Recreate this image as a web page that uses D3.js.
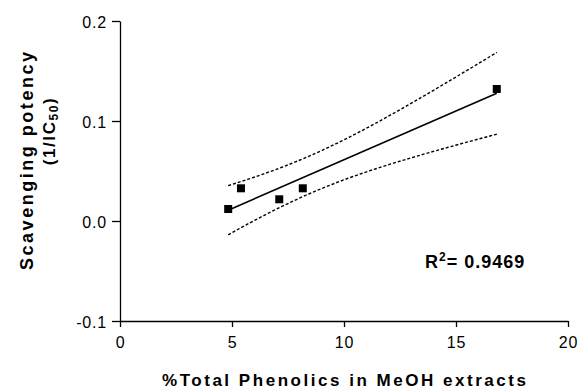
<!DOCTYPE html>
<html><head><meta charset="utf-8">
<script src="https://cdn.jsdelivr.net/npm/d3@7"></script>
<style>body{margin:0;background:#fff}svg{display:block}text{font-family:"Liberation Sans",Arial,sans-serif}</style>
</head><body>
<svg id="c" width="579" height="389"></svg>
<script>
// Data
const phenolics = [4.83, 5.40, 7.11, 8.16, 16.82];      // % total phenolics
const potency   = [0.012, 0.0327, 0.0217, 0.0327, 0.132]; // 1/IC50
const xTicks = [0, 5, 10, 15, 20];
const yTicks = [-0.1, 0.0, 0.1, 0.2];
const rSquaredLabel = "0.9469";

const svg = d3.select("#c");
const x = d3.scaleLinear().domain([0, 20]).range([120, 568]);
const y = d3.scaleLinear().domain([-0.1, 0.2]).range([321, 21]);

// axes
const gx = svg.append("g").attr("transform", `translate(0,${y(-0.1)})`)
  .call(d3.axisBottom(x).tickValues(xTicks).tickFormat(d3.format("d")).tickSize(6).tickSizeOuter(0));
const gy = svg.append("g").attr("transform", `translate(${x(0)},0)`)
  .call(d3.axisLeft(y).tickValues(yTicks).tickFormat(d => d3.format(".1f")(d).replace("\u2212", "-")).tickSize(8).tickSizeOuter(0));
[gx, gy].forEach(g => {
  g.select(".domain").attr("stroke", "#000").attr("stroke-width", 1.3);
  g.selectAll(".tick line").attr("stroke", "#000").attr("stroke-width", 1.3);
  g.selectAll(".tick text").attr("fill", "#000").style("font-size", "16px")
   .style("letter-spacing", "0.8px")
   .style("font-family", '"Liberation Sans", Arial, sans-serif');
});
gx.selectAll(".tick text").attr("dy", "0").attr("y", 27);
gy.selectAll(".tick text").attr("x", -13).attr("dy", "0.4em");

// linear regression and 95% confidence band computed from the data
const n = phenolics.length;
const mx = d3.mean(phenolics), my = d3.mean(potency);
const sxx = d3.sum(phenolics, v => (v - mx) ** 2);
const sxy = d3.sum(phenolics, (v, i) => (v - mx) * (potency[i] - my));
const slope = sxy / sxx, icpt = my - slope * mx;
const sse = d3.sum(phenolics, (v, i) => (potency[i] - (icpt + slope * v)) ** 2);
const s = Math.sqrt(sse / (n - 2));
const tcrit = 3.182; // t(0.975, df=3)
const xmin = d3.min(phenolics), xmax = d3.max(phenolics);
const grid = d3.range(0, 41).map(i => xmin + (xmax - xmin) * i / 40);
const half = v => tcrit * s * Math.sqrt(1 / n + (v - mx) ** 2 / sxx);

const line = d3.line().x(d => x(d[0])).y(d => y(d[1]));
svg.append("path").attr("d", line(grid.map(v => [v, icpt + slope * v + half(v)])))
  .attr("fill", "none").attr("stroke", "#000").attr("stroke-width", 1.4).attr("stroke-dasharray", "3,2");
svg.append("path").attr("d", line(grid.map(v => [v, icpt + slope * v - half(v)])))
  .attr("fill", "none").attr("stroke", "#000").attr("stroke-width", 1.4).attr("stroke-dasharray", "3,2");
svg.append("path").attr("d", line([[xmin, icpt + slope * xmin], [xmax, icpt + slope * xmax]]))
  .attr("fill", "none").attr("stroke", "#000").attr("stroke-width", 1.6);

// points
svg.selectAll("rect.pt").data(phenolics).join("rect").attr("class", "pt")
  .attr("x", d => x(d) - 4).attr("y", (d, i) => y(potency[i]) - 4)
  .attr("width", 8).attr("height", 8).attr("fill", "#000");

// axis titles
svg.append("text").attr("x", 162).attr("y", 386)
  .attr("textLength", 364).attr("lengthAdjust", "spacing")
  .style("font-size", "17px").style("font-weight", "bold")
  .text("%Total Phenolics in MeOH extracts");

svg.append("text").attr("transform", "translate(33,270) rotate(-90)")
  .attr("textLength", 218).attr("lengthAdjust", "spacing")
  .style("font-size", "18px").style("font-weight", "bold")
  .text("Scavenging potency");
const yt2 = svg.append("text").attr("transform", "translate(55,131) rotate(-90)")
  .attr("text-anchor", "middle").style("font-size", "17px").style("font-weight", "bold")
  .style("letter-spacing", "1.6px");
yt2.append("tspan").text("(1/IC");
yt2.append("tspan").attr("dy", 3).style("font-size", "12px").text("50");
yt2.append("tspan").attr("dy", -3).text(")");

// R squared
const rt = svg.append("text").attr("x", 425).attr("y", 268)
  .style("font-size", "18px").style("font-weight", "bold").style("letter-spacing", "1px");
rt.append("tspan").text("R");
rt.append("tspan").attr("dy", -7).style("font-size", "12px").text("2");
rt.append("tspan").attr("dy", 7).text("= " + rSquaredLabel);
</script>
</body></html>
